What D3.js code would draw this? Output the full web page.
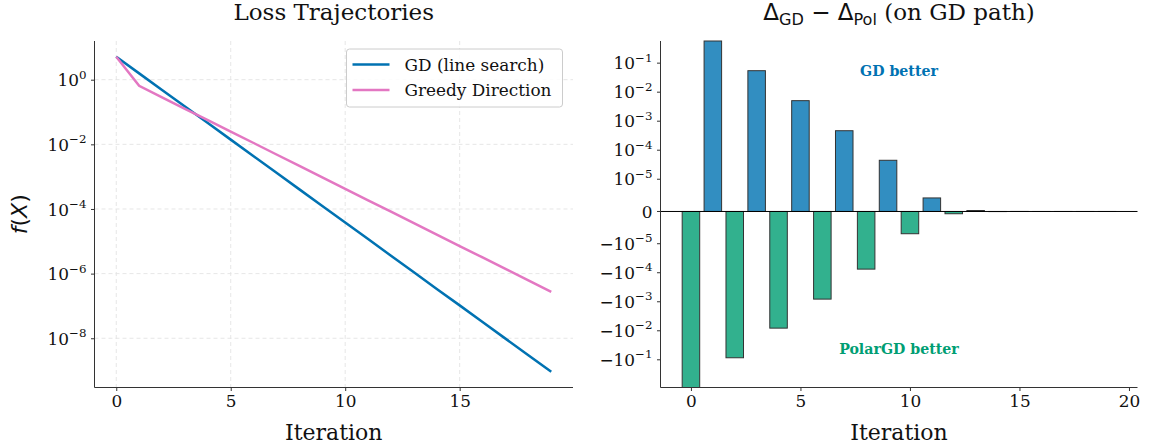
<!DOCTYPE html>
<html>
<head>
<meta charset="utf-8">
<script src="https://cdn.jsdelivr.net/npm/d3@7"></script>
<style>
  body { margin: 0; background: #fff; }
  text { font-family: "DejaVu Serif", serif; fill: #111; }
</style>
</head>
<body>
<svg id="chart" width="1151" height="448"></svg>
<script>
// ---- data ----
const iterations = [0, 1, 2, 3, 4, 5, 6, 7, 8, 9, 10, 11, 12, 13, 14, 15, 16, 17, 18, 19];
const gdLoss = [5.13, 1.57, 0.483, 0.148, 0.0455, 0.0140, 4.28e-3, 1.32e-3, 4.04e-4, 1.24e-4,
                3.80e-5, 1.17e-5, 3.58e-6, 1.10e-6, 3.37e-7, 1.04e-7, 3.18e-8, 9.75e-9, 2.99e-9, 9.2e-10];
const greedyLoss = [5.13, 0.646, 0.286, 0.126, 0.056, 0.0248, 0.011, 4.85e-3, 2.15e-3, 9.5e-4,
                    4.2e-4, 1.86e-4, 8.24e-5, 3.65e-5, 1.61e-5, 7.14e-6, 3.16e-6, 1.40e-6, 6.19e-7, 2.74e-7];
const deltaDiff = [-0.90, 0.58, -0.085, 0.055, -8.1e-3, 5.1e-3, -8.1e-4, 4.7e-4, -7.5e-5, 4.5e-5,
                   -6.9e-6, 4.2e-6, -7.0e-7, 3.0e-7, -3e-8, 1e-8, -4e-9, 2e-9, -1e-9, 5e-10];
const seriesNames = ["GD (line search)", "Greedy Direction"];
const leftXTicks = [0, 5, 10, 15];
const leftYExponents = [0, -2, -4, -6, -8];
const rightXTicks = [0, 5, 10, 15, 20];
const rightYExponents = [-1, -2, -3, -4, -5];

const colGD = "#0072B2", colGreedy = "#e377c2", colPolar = "#009E73";

const svg = d3.select("#chart");
const tickFont = 16.9, labelFont = 22, titleFont = 23;

// ---- shared helpers ----
function powLabel(sel, prefix, exp) {
  // draws "10^exp" (optionally with a leading minus) as text + superscript
  sel.text(prefix + "10");
  sel.append("tspan").attr("dy", -7.5).attr("font-size", tickFont * 0.7)
     .text(exp < 0 ? "\u2212" + Math.abs(exp) : String(exp));
}

// ================= left panel: loss trajectories =================
const L = { x0: 94.5, x1: 573, y0: 41, y1: 387.5 };
const logExt = d3.extent(gdLoss.concat(greedyLoss)).map(Math.log10);
const logPad = (logExt[1] - logExt[0]) * 0.05;
const xL = d3.scaleLinear().domain([-0.95, 19.95]).range([L.x0, L.x1]);
const yL = d3.scaleLog()
  .domain([Math.pow(10, logExt[0] - logPad), Math.pow(10, logExt[1] + logPad)])
  .range([L.y1, L.y0]);

const gl = svg.append("g");
// dashed grid
gl.selectAll(".gx").data(leftXTicks).join("line")
  .attr("x1", d => xL(d)).attr("x2", d => xL(d)).attr("y1", L.y0).attr("y2", L.y1)
  .attr("stroke", "#e3e3e3").attr("stroke-width", 0.9).attr("stroke-dasharray", "4,3");
gl.selectAll(".gy").data(leftYExponents).join("line")
  .attr("x1", L.x0).attr("x2", L.x1)
  .attr("y1", d => yL(Math.pow(10, d))).attr("y2", d => yL(Math.pow(10, d)))
  .attr("stroke", "#e3e3e3").attr("stroke-width", 0.9).attr("stroke-dasharray", "4,3");

// lines
const lineGen = d3.line().x((d, i) => xL(iterations[i])).y(d => yL(d));
gl.append("path").datum(gdLoss).attr("d", lineGen)
  .attr("fill", "none").attr("stroke", colGD).attr("stroke-width", 2.5);
gl.append("path").datum(greedyLoss).attr("d", lineGen)
  .attr("fill", "none").attr("stroke", colGreedy).attr("stroke-width", 2.5);

// axes
const axL = gl.append("g").attr("transform", `translate(0,${L.y1})`)
  .call(d3.axisBottom(xL).tickValues(leftXTicks).tickSize(3.5).tickPadding(4).tickFormat(d3.format("d")));
const ayL = gl.append("g").attr("transform", `translate(${L.x0},0)`)
  .call(d3.axisLeft(yL).tickValues(leftYExponents.map(e => Math.pow(10, e))).tickSize(3.5).tickPadding(4).tickFormat(""));
[axL, ayL].forEach(a => {
  a.select(".domain").attr("stroke", "#333").attr("stroke-width", 1);
  a.selectAll(".tick line").attr("stroke", "#333");
  a.selectAll("text").attr("font-family", "DejaVu Serif").attr("font-size", tickFont).attr("fill", "#111");
});
axL.select(".domain").attr("d", `M${L.x0},0H${L.x1}`);
ayL.select(".domain").attr("d", `M0,${L.y0}V${L.y1}`);
ayL.selectAll(".tick").each(function (d) {
  d3.select(this).append("text")
    .attr("x", -8).attr("dy", "0.36em").attr("text-anchor", "end")
    .attr("font-size", tickFont).attr("fill", "#111")
    .call(powLabel, "", Math.round(Math.log10(d)));
});

// legend
const lg = gl.append("g").attr("transform", "translate(346.5,49)");
lg.append("rect").attr("width", 216).attr("height", 58).attr("rx", 3)
  .attr("fill", "#fff").attr("fill-opacity", 0.85).attr("stroke", "#cccccc").attr("stroke-width", 1);
[colGD, colGreedy].forEach((c, i) => {
  const yy = 15.5 + i * 25.5;
  lg.append("line").attr("x1", 6).attr("x2", 43).attr("y1", yy).attr("y2", yy)
    .attr("stroke", c).attr("stroke-width", 2.5);
  lg.append("text").attr("x", 58).attr("y", yy).attr("dy", "0.36em")
    .attr("font-size", tickFont).text(seriesNames[i]);
});

// titles and labels
gl.append("text").attr("x", (L.x0 + L.x1) / 2).attr("y", 20).attr("text-anchor", "middle")
  .attr("font-size", titleFont).text("Loss Trajectories");
gl.append("text").attr("x", (L.x0 + L.x1) / 2).attr("y", 440).attr("text-anchor", "middle")
  .attr("font-size", labelFont).text("Iteration");
const yLab = gl.append("text").attr("transform", `translate(27,${(L.y0 + L.y1) / 2}) rotate(-90)`)
  .attr("text-anchor", "middle").attr("font-size", labelFont)
  .style("font-family", "'DejaVu Sans', sans-serif");
yLab.append("tspan").attr("font-style", "italic").text("f");
yLab.append("tspan").text("(");
yLab.append("tspan").attr("font-style", "italic").text("X");
yLab.append("tspan").text(")");

// ================= right panel: symlog bar chart =================
const R = { x0: 660.5, x1: 1137.5, y0: 41, y1: 387.5 };
const linthresh = 1e-5;
const linscale = 1 / (1 - 1 / 10);
function symlog(v) {
  const a = Math.abs(v);
  const t = a <= linthresh ? (a / linthresh) * linscale : linscale + Math.log10(a / linthresh);
  return v < 0 ? -t : t;
}
const barWidth = 0.8;
const xPad = (iterations[iterations.length - 1] - iterations[0] + barWidth) * 0.05;
const xR = d3.scaleLinear()
  .domain([iterations[0] - barWidth / 2 - xPad, iterations[iterations.length - 1] + barWidth / 2 + xPad])
  .range([R.x0, R.x1]);
const symExt = d3.extent(deltaDiff.map(symlog));
const yR = d3.scaleLinear().domain(symExt).range([R.y1, R.y0]);

const gr = svg.append("g");
const pxW = xR(barWidth) - xR(0);
gr.selectAll("rect.bar").data(deltaDiff).join("rect")
  .attr("class", "bar")
  .attr("x", (d, i) => xR(iterations[i]) - pxW / 2)
  .attr("width", pxW)
  .attr("y", d => Math.min(yR(symlog(d)), yR(0)))
  .attr("height", d => Math.abs(yR(symlog(d)) - yR(0)))
  .attr("fill", d => d >= 0 ? colGD : colPolar)
  .attr("opacity", 0.8)
  .attr("stroke", "#000").attr("stroke-width", 1);

// zero reference line
gr.append("line").attr("x1", R.x0).attr("x2", R.x1).attr("y1", yR(0)).attr("y2", yR(0))
  .attr("stroke", "#000").attr("stroke-width", 1);

const axR = gr.append("g").attr("transform", `translate(0,${R.y1})`)
  .call(d3.axisBottom(xR).tickValues(rightXTicks).tickSize(3.5).tickPadding(4).tickFormat(d3.format("d")));
const yTickVals = rightYExponents.map(e => -Math.pow(10, e))
  .concat([0], rightYExponents.slice().reverse().map(e => Math.pow(10, e)));
const ayR = gr.append("g").attr("transform", `translate(${R.x0},0)`);
ayR.append("path").attr("d", `M0,${R.y0}V${R.y1}`).attr("stroke", "#333").attr("fill", "none");
yTickVals.forEach(v => {
  const yy = yR(symlog(v));
  const t = ayR.append("g").attr("transform", `translate(0,${yy})`);
  t.append("line").attr("x2", -3.5).attr("stroke", "#333");
  const tx = t.append("text").attr("x", -8).attr("dy", "0.36em").attr("text-anchor", "end")
    .attr("font-size", tickFont).attr("fill", "#111");
  if (v === 0) tx.text("0");
  else tx.call(powLabel, v < 0 ? "\u2212" : "", Math.round(Math.log10(Math.abs(v))));
});
axR.select(".domain").attr("stroke", "#333").attr("d", `M${R.x0},0H${R.x1}`);
axR.selectAll(".tick line").attr("stroke", "#333");
axR.selectAll("text").attr("font-family", "DejaVu Serif").attr("font-size", tickFont).attr("fill", "#111");

// annotations
const midR = (R.x0 + R.x1) / 2;
gr.append("text").attr("x", midR).attr("y", R.y1 - 0.913 * (R.y1 - R.y0)).attr("dy", "0.36em")
  .attr("text-anchor", "middle").attr("font-weight", "bold").attr("font-size", 14.2)
  .style("fill", colGD).text("GD better");
gr.append("text").attr("x", midR).attr("y", R.y1 - 0.11 * (R.y1 - R.y0)).attr("dy", "0.36em")
  .attr("text-anchor", "middle").attr("font-weight", "bold").attr("font-size", 14.2)
  .style("fill", colPolar).text("PolarGD better");

// title with math-style subscripts
const tR = gr.append("text").attr("x", midR).attr("y", 20).attr("text-anchor", "middle")
  .attr("font-size", titleFont);
const sans = "'DejaVu Sans', sans-serif";
tR.append("tspan").style("font-family", sans).text("\u0394");
tR.append("tspan").style("font-family", sans).attr("font-size", titleFont * 0.7).attr("dy", 5).text("GD");
tR.append("tspan").style("font-family", sans).attr("dy", -5).text(" \u2212 \u0394");
tR.append("tspan").style("font-family", sans).attr("font-size", titleFont * 0.7).attr("dy", 5).text("Pol");
tR.append("tspan").attr("dy", -5).text(" (on GD path)");

gr.append("text").attr("x", midR).attr("y", 440).attr("text-anchor", "middle")
  .attr("font-size", labelFont).text("Iteration");
</script>
</body>
</html>
